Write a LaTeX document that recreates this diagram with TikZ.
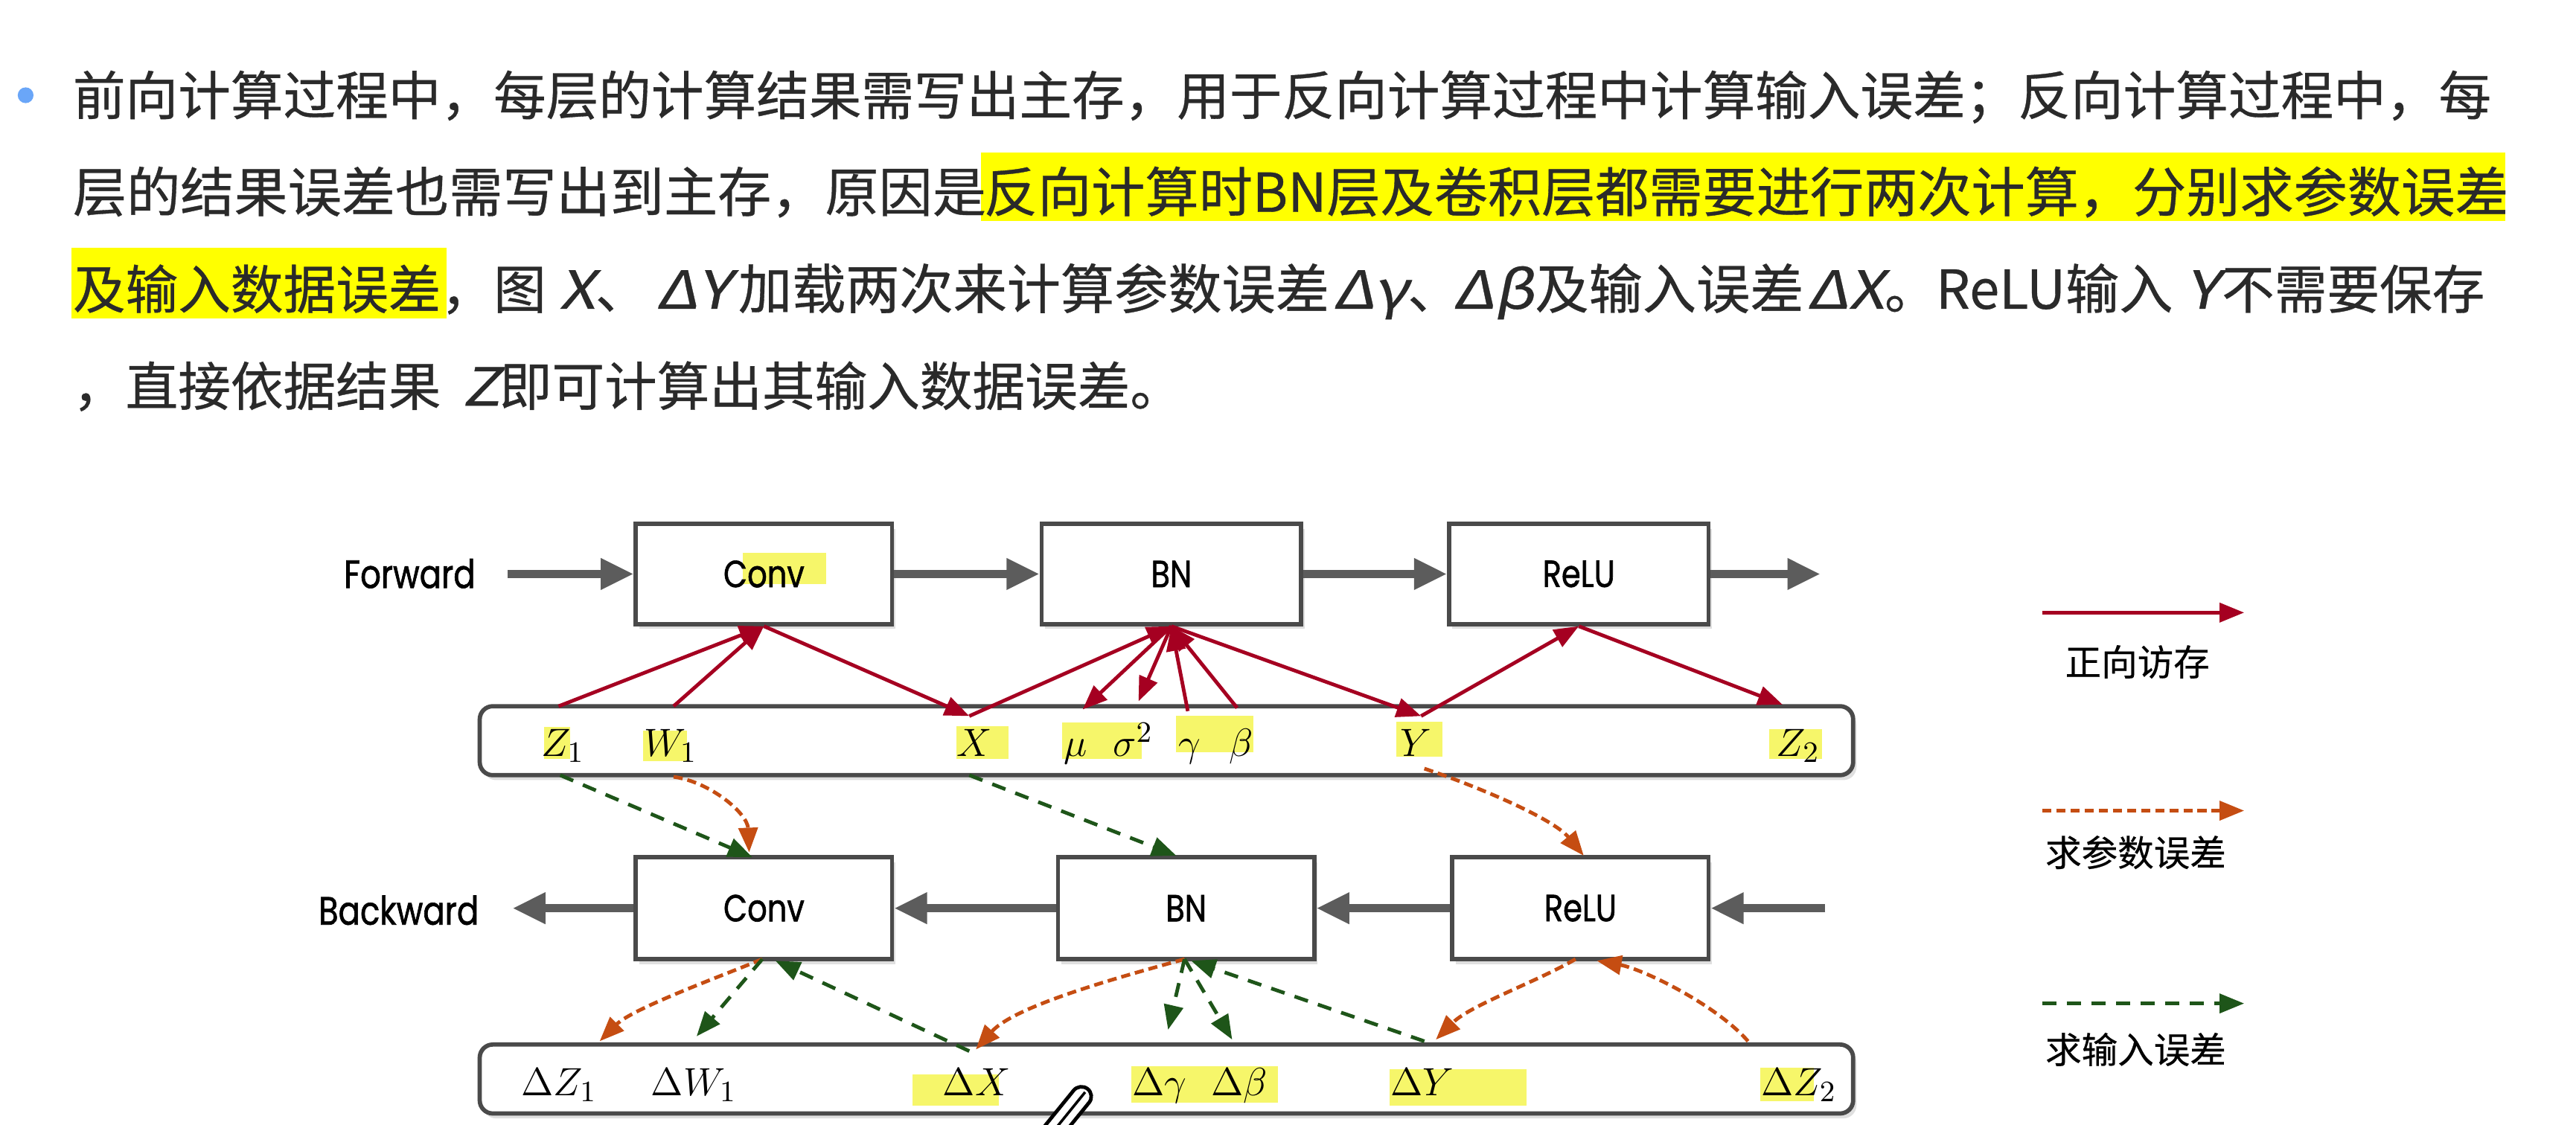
\documentclass[tikz,border=0pt]{standalone}
\usepackage{fontspec}
\newfontfamily\cjk[FakeBold=0.5]{Noto Sans CJK SC}
\newfontfamily\cjkit[FakeSlant=0.2,FakeBold=0.5,FakeStretch=1.2]{Noto Sans CJK SC}
\newfontfamily\legfont[FakeBold=0.4]{Noto Sans CJK SC}
\newfontfamily\diagfont[FakeStretch=0.82,FakeBold=1.2]{Poppins}
\usetikzlibrary{arrows.meta,shadows}
\definecolor{redc}{HTML}{A50021}
\definecolor{orangec}{HTML}{C54D12}
\definecolor{greenc}{HTML}{1E5519}
\definecolor{grayc}{HTML}{5C5C5C}
\definecolor{boxc}{HTML}{4A4A4A}
\definecolor{txtc}{HTML}{2A2A2A}
\definecolor{bulletc}{HTML}{6AA6F8}
\definecolor{hlbright}{HTML}{FFFF00}
\definecolor{hlsoft}{HTML}{F6F66A}
\newcommand{\vi}[1]{{\cjkit #1}}
\tikzset{
  para/.style={inner sep=0pt, anchor=base west, text=txtc, font=\cjk\fontsize{16pt}{19pt}\selectfont},
  paraw/.style={para, font=\cjk\fontsize{16.35pt}{19pt}\selectfont},
  layer/.style={draw=boxc, line width=1.3pt, fill=white, minimum height=30.5pt, inner sep=0pt,
    font=\diagfont\fontsize{11.5pt}{13pt}\selectfont,
    drop shadow={shadow xshift=1pt, shadow yshift=-1.5pt, opacity=0.25}},
  membar/.style={draw=boxc, line width=1.3pt, fill=white, rounded corners=4pt, minimum width=418pt, minimum height=21pt,
    drop shadow={shadow xshift=1pt, shadow yshift=-1.5pt, opacity=0.25}},
  dirlbl/.style={inner sep=0pt, anchor=base west, font=\diagfont\fontsize{12pt}{14pt}\selectfont},
  lbl/.style={inner sep=0pt, anchor=base west, font=\fontsize{13pt}{15pt}\selectfont},
  legtxt/.style={inner sep=0pt, font=\legfont\fontsize{11pt}{13pt}\selectfont},
  flowarrow/.style={draw=grayc, line width=2.4pt, -{Triangle[length=10pt,width=9pt]}},
  memarrow/.style={draw=redc, line width=1.1pt, -{Triangle[length=7.5pt,width=5.8pt]}},
  paramarrow/.style={draw=orangec, line width=1.1pt, dash pattern=on 2.8pt off 1.5pt, -{Triangle[length=7.5pt,width=5.8pt]}},
  inputarrow/.style={draw=greenc, line width=1.1pt, dash pattern=on 4.3pt off 3.2pt, -{Triangle[length=7.5pt,width=5.8pt]}},
  hlsoftbox/.style={fill=hlsoft}
}
\begin{document}
\begin{tikzpicture}[x=0.5pt,y=-0.5pt]
\useasboundingbox (0,0) rectangle (1568,685);
\fill[white] (0,0) rectangle (1568,685);

% ---------- paragraph ----------
\fill[bulletc] (15.6,58) circle [radius=2.4pt];
\fill[hlbright] (597,93) rectangle (1525,134.6);
\fill[hlbright] (43.3,151) rectangle (272,194);
\node[para] (l1) at (44,70) {前向计算过程中，每层的计算结果需写出主存，用于反向计算过程中计算输入误差；反向计算过程中，每};
\node[paraw] (l2a) at (44,129) {层的结果误差也需写出到主存，原因是};
\node[paraw] (l2b) at (598.5,129) {反向计算时BN层及卷积层都需要进行两次计算，分别求参数误差};
\node[para] (l3a) at (44,188) {及输入数据误差，图};
\node[para] (l3b) at (340,188) {\vi{X}、};
\node[para] (l3c) at (399,188) {\vi{ΔY}};
\node[paraw] (l3d) at (449,188) {加载两次来计算参数误差};
\node[para] (l3e) at (811,188) {\vi{Δγ}、};
\node[para] (l3f) at (884,188) {\vi{Δβ}};
\node[paraw] (l3g) at (934,188) {及输入误差};
\node[para] (l3h) at (1099.5,188) {\vi{ΔX}。};
\node[paraw] (l3i) at (1178,188) {ReLU输入};
\node[para] (l3j) at (1330,188) {\vi{Y}};
\node[para] (l3k) at (1352,188) {不需要保存};
\node[para] (l4a) at (44,247) {，直接依据结果};
\node[para] (l4b) at (281,247) {\vi{Z}};
\node[para] (l4c) at (303.5,247) {即可计算出其输入数据误差。};

% ---------- memory bars ----------
\node[membar] (topbar) at (710,451) {};
\node[membar] (botbar) at (710,657) {};

% ---------- layer boxes ----------
\node[layer, minimum width=78pt] (convF) at (465,349.5) {Conv};
\node[layer, minimum width=79pt] (bnF) at (713,349.5) {BN};
\node[layer, minimum width=79pt] (reluF) at (961,349.5) {ReLU};
\node[layer, minimum width=78pt, minimum height=31pt] (convB) at (465,553) {Conv};
\node[layer, minimum width=78pt, minimum height=31pt] (bnB) at (722,553) {BN};
\node[layer, minimum width=78pt, minimum height=31pt] (reluB) at (962,553) {ReLU};
\fill[hlsoft, blend mode=multiply] (452,336.6) rectangle (503,355.6);

\node[dirlbl] (fwdlbl) at (209,358) {Forward};
\node[dirlbl] (bwdlbl) at (193.5,563) {Backward};

% ---------- label highlights ----------
\fill[hlsoftbox] (331,442.5) rectangle (347,462);
\fill[hlsoftbox] (391.5,445) rectangle (418,463.5);
\fill[hlsoftbox] (582,442) rectangle (614,462);
\fill[hlsoftbox] (646.6,440) rectangle (695,462);
\fill[hlsoftbox] (716,436) rectangle (763,458);
\fill[hlsoftbox] (850,439.5) rectangle (878,460.7);
\fill[hlsoftbox] (1077,444) rectangle (1109,462);
\fill[hlsoftbox] (555.5,654) rectangle (608,673);
\fill[hlsoftbox] (688.7,649) rectangle (778,671.5);
\fill[hlsoftbox] (846,651) rectangle (929,673);
\fill[hlsoftbox] (1071.6,650) rectangle (1104,670.6);

% ---------- labels in memory ----------
\node[lbl] (lZ1) at (329,460.6) {$Z_1$};
\node[lbl] (lW1) at (391.5,460.6) {$W_1$};
\node[lbl] (lX) at (582,460.6) {$X$};
\node[lbl] (lmu) at (647,460.6) {$\mu$};
\node[lbl] (lsig) at (677,460.6) {$\sigma^2$};
\node[lbl] (lgam) at (717,460.6) {$\gamma$};
\node[lbl] (lbeta) at (747.6,460.6) {$\beta$};
\node[lbl] (lY) at (852,460.6) {$Y$};
\node[lbl] (lZ2) at (1081,460.6) {$Z_2$};
\node[lbl] (dZ1) at (317,667) {$\Delta Z_1$};
\node[lbl] (dW1) at (396,667) {$\Delta W_1$};
\node[lbl] (dX) at (573.6,667) {$\Delta X$};
\node[lbl] (dgam) at (688.7,667) {$\Delta\gamma$};
\node[lbl] (dbeta) at (737,667) {$\Delta\beta$};
\node[lbl] (dY) at (846,667) {$\Delta Y$};
\node[lbl] (dZ2) at (1071.6,667) {$\Delta Z_2$};

% ---------- coordinates ----------
\coordinate (tZ1) at (340,430);
\coordinate (tW1) at (410,430);
\coordinate (tX) at (590,436);
\coordinate (tMu) at (659,432);
\coordinate (tSig) at (693,427);
\coordinate (tGam) at (723,433);
\coordinate (tBeta) at (753,431);
\coordinate (tY) at (865,436);
\coordinate (tZ2) at (1085,429);
\coordinate (bZ1) at (341,472);
\coordinate (bW1) at (410,473);
\coordinate (bX) at (590,472);
\coordinate (bY) at (867,468);
\coordinate (convIn) at (458,522);
\coordinate (convInP) at (456,519);
\coordinate (bnIn) at (716,521);
\coordinate (reluIn) at (964,521);
\coordinate (convOut) at (464,584);
\coordinate (convRet) at (472,585);
\coordinate (bnOut) at (721,584);
\coordinate (bnRet) at (725,585);
\coordinate (reluOut) at (959,584);
\coordinate (reluRet) at (972,585);
\coordinate (uZ1) at (365,634);
\coordinate (uW1) at (424,631);
\coordinate (uX) at (590,640);
\coordinate (uXp) at (594,639);
\coordinate (ugam) at (711,627);
\coordinate (ubeta) at (750,633);
\coordinate (uY) at (867,634);
\coordinate (uYp) at (874,633);
\coordinate (uZ2) at (1064,634);
\coordinate (fstart) at (309,349.5);
\coordinate (fend) at (1108,349.5);
\coordinate (bstart) at (1111,553);
\coordinate (bend) at (312,553);

% ---------- flow arrows ----------
\draw[flowarrow] (fstart) -- (convF.west);
\draw[flowarrow] (convF.east) -- (bnF.west);
\draw[flowarrow] (bnF.east) -- (reluF.west);
\draw[flowarrow] (reluF.east) -- (fend);
\draw[flowarrow] (bstart) -- (reluB.east);
\draw[flowarrow] (reluB.west) -- (bnB.east);
\draw[flowarrow] (bnB.west) -- (convB.east);
\draw[flowarrow] (convB.west) -- (bend);

% ---------- forward memory access ----------
\draw[memarrow] (tZ1) -- (convF.south);
\draw[memarrow] (tW1) -- (convF.south);
\draw[memarrow] (convF.south) -- (tX);
\draw[memarrow] (tX) -- (bnF.south);
\draw[memarrow] (bnF.south) -- (tMu);
\draw[memarrow] (bnF.south) -- (tSig);
\draw[memarrow] (tGam) -- (bnF.south);
\draw[memarrow] (tBeta) -- (bnF.south);
\draw[memarrow] (bnF.south) -- (tY);
\draw[memarrow] (tY) -- (reluF.south);
\draw[memarrow] (reluF.south) -- (tZ2);

% ---------- loads for backward ----------
\draw[inputarrow] (bZ1) -- (convIn);
\draw[paramarrow] (bW1) .. controls (432,476) and (455,495) .. (convInP);
\draw[inputarrow] (bX) -- (bnIn);
\draw[paramarrow] (bY) .. controls (897,478) and (945,498) .. (reluIn);

% ---------- backward results ----------
\draw[paramarrow] (convOut) .. controls (440,594) and (385,614) .. (uZ1);
\draw[inputarrow] (convOut) -- (uW1);
\draw[inputarrow] (uX) -- (convRet);
\draw[paramarrow] (bnOut) .. controls (685,594) and (618,612) .. (uXp);
\draw[inputarrow] (bnOut) -- (ugam);
\draw[inputarrow] (bnOut) -- (ubeta);
\draw[inputarrow] (uY) -- (bnRet);
\draw[paramarrow] (reluOut) .. controls (935,598) and (895,612) .. (uYp);
\draw[paramarrow] (uZ2) .. controls (1045,612) and (1000,590) .. (reluRet);

% ---------- pen cursor ----------
\draw[line width=1.1pt, fill=white, rounded corners=3pt] (657.3,659.3) -- (666.7,666.7) -- (640.7,698.7) -- (631.3,691.3) -- cycle;
\draw[line width=0.8pt] (660.5,665) -- (637,694);

% ---------- legend ----------
\coordinate (lgA1) at (1243,373);
\coordinate (lgB1) at (1366,373);
\coordinate (lgA2) at (1243,493.6);
\coordinate (lgB2) at (1366,493.6);
\coordinate (lgA3) at (1243,611);
\coordinate (lgB3) at (1366,611);
\draw[memarrow] (lgA1) -- (lgB1);
\draw[paramarrow] (lgA2) -- (lgB2);
\draw[inputarrow] (lgA3) -- (lgB3);
\node[legtxt] (lgt1) at (1301,403) {正向访存};
\node[legtxt] (lgt2) at (1300,519) {求参数误差};
\node[legtxt] (lgt3) at (1300,639) {求输入误差};
\end{tikzpicture}
\end{document}
